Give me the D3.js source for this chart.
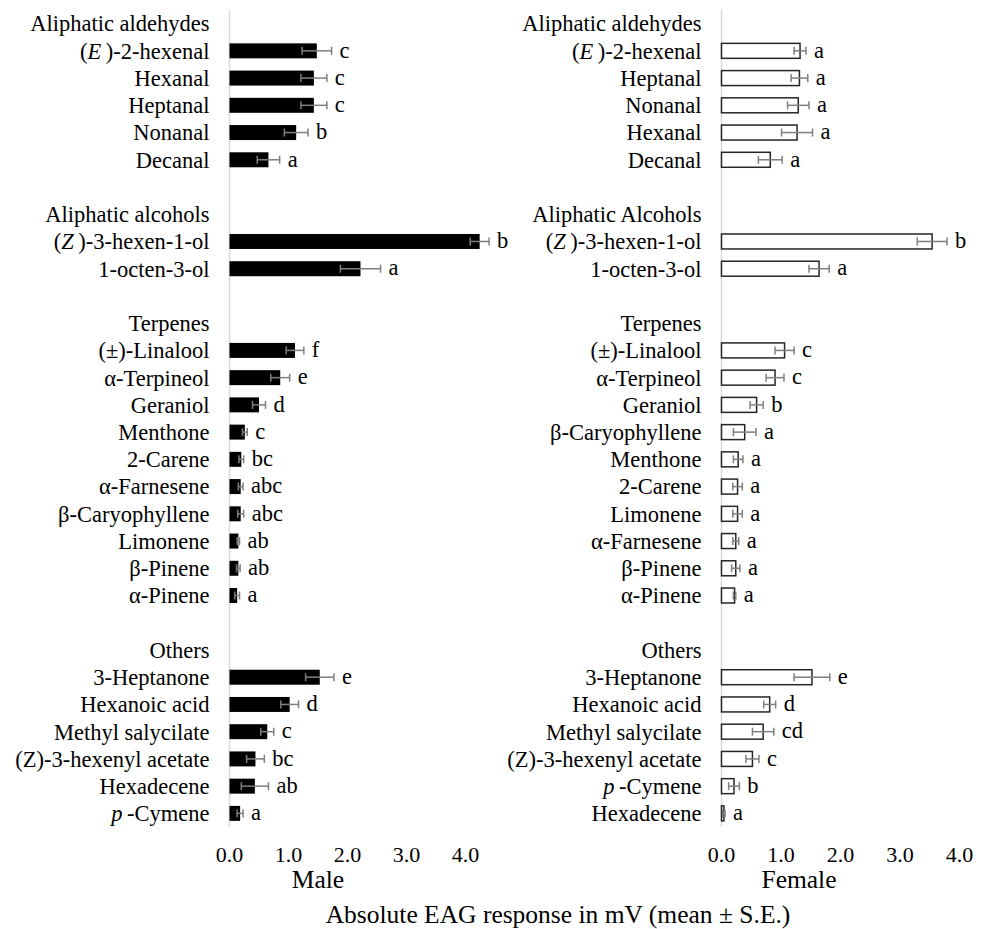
<!DOCTYPE html>
<html>
<head>
<meta charset="utf-8">
<script src="https://cdn.jsdelivr.net/npm/d3@7"></script>
<style>
  html, body { margin: 0; padding: 0; background: #fff; }
</style>
</head>
<body>
<svg id="chart" width="987" height="929" font-family="'Liberation Serif', 'Times New Roman', 'DejaVu Serif', serif"></svg>
<script>
// rows top to bottom; '' is a spacer row, headers have no value; _x_ marks italic
const maleRows = [
  'Aliphatic aldehydes', '(_E_)-2-hexenal', 'Hexanal', 'Heptanal', 'Nonanal', 'Decanal', '',
  'Aliphatic alcohols', '(_Z_)-3-hexen-1-ol', '1-octen-3-ol', '',
  'Terpenes', '(±)-Linalool', 'α-Terpineol', 'Geraniol', 'Menthone', '2-Carene', 'α-Farnesene',
  'β-Caryophyllene', 'Limonene', 'β-Pinene', 'α-Pinene', '',
  'Others', '3-Heptanone', 'Hexanoic acid', 'Methyl salycilate', '(Z)-3-hexenyl acetate', 'Hexadecene', '_p_-Cymene',
];
const maleMeans = [
  null, 1.48, 1.43, 1.43, 1.13, 0.66, null,
  null, 4.24, 2.22, null,
  null, 1.11, 0.86, 0.50, 0.26, 0.20, 0.19, 0.19, 0.15, 0.15, 0.13, null,
  null, 1.53, 1.02, 0.64, 0.44, 0.43, 0.18,
];
const maleErrors = [
  null, 0.25, 0.22, 0.22, 0.20, 0.19, null,
  null, 0.16, 0.34, null,
  null, 0.15, 0.16, 0.11, 0.04, 0.04, 0.04, 0.05, 0.02, 0.03, 0.04, null,
  null, 0.24, 0.15, 0.11, 0.15, 0.23, 0.05,
];
const maleLetters = [
  '', 'c', 'c', 'c', 'b', 'a', '',
  '', 'b', 'a', '',
  '', 'f', 'e', 'd', 'c', 'bc', 'abc', 'abc', 'ab', 'ab', 'a', '',
  '', 'e', 'd', 'c', 'bc', 'ab', 'a',
];

const femaleRows = [
  'Aliphatic aldehydes', '(_E_)-2-hexenal', 'Heptanal', 'Nonanal', 'Hexanal', 'Decanal', '',
  'Aliphatic Alcohols', '(_Z_)-3-hexen-1-ol', '1-octen-3-ol', '',
  'Terpenes', '(±)-Linalool', 'α-Terpineol', 'Geraniol', 'β-Caryophyllene', 'Menthone', '2-Carene',
  'Limonene', 'α-Farnesene', 'β-Pinene', 'α-Pinene', '',
  'Others', '3-Heptanone', 'Hexanoic acid', 'Methyl salycilate', '(Z)-3-hexenyl acetate', '_p_-Cymene', 'Hexadecene',
];
const femaleMeans = [
  null, 1.32, 1.31, 1.29, 1.27, 0.82, null,
  null, 3.54, 1.64, null,
  null, 1.06, 0.90, 0.59, 0.39, 0.28, 0.27, 0.27, 0.24, 0.24, 0.22, null,
  null, 1.52, 0.81, 0.70, 0.52, 0.21, 0.04,
];
const femaleErrors = [
  null, 0.10, 0.14, 0.18, 0.26, 0.20, null,
  null, 0.25, 0.17, null,
  null, 0.16, 0.15, 0.11, 0.19, 0.08, 0.08, 0.08, 0.05, 0.07, 0.02, null,
  null, 0.30, 0.10, 0.18, 0.11, 0.09, 0.02,
];
const femaleLetters = [
  '', 'a', 'a', 'a', 'a', 'a', '',
  '', 'b', 'a', '',
  '', 'c', 'c', 'b', 'a', 'a', 'a', 'a', 'a', 'a', 'a', '',
  '', 'e', 'd', 'cd', 'c', 'b', 'a',
];

const xTicks = [0, 1, 2, 3, 4];
const xDomain = [0, 4];

const svg = d3.select('#chart');
const plotTop = 10;
const plotBottom = 827;

function addRichText(sel, str) {
  // split on '_' : odd parts are italic, followed by a thin gap
  str.split('_').forEach((part, i) => {
    if (!part) return;
    if (i % 2 === 1) {
      sel.append('tspan').attr('font-style', 'italic').text(part + '\u2009');
    } else {
      sel.append('tspan').text(part);
    }
  });
}

function drawPanel({ x0, x1, rows, means, errors, letters, fill, stroke, title, titleX }) {
  const g = svg.append('g');
  const n = rows.length;
  const data = rows.map((label, i) => ({
    i, label, mean: means[i], err: errors[i], letter: letters[i],
  }));

  const x = d3.scaleLinear().domain(xDomain).range([x0, x1]);
  const y = d3.scaleBand()
    .domain(d3.range(n))
    .range([plotTop, plotBottom])
    .paddingInner(0.45)
    .paddingOuter(0.225);

  // zero line
  g.append('line')
    .attr('x1', x(0)).attr('x2', x(0))
    .attr('y1', plotTop).attr('y2', plotBottom)
    .attr('stroke', '#d9d9d9')
    .attr('stroke-width', 1.5);

  // category labels
  g.selectAll('text.cat')
    .data(data.filter((d) => d.label))
    .join('text')
    .attr('class', 'cat')
    .attr('x', x(0) - 20)
    .attr('y', (d) => y(d.i) + y.bandwidth() / 2)
    .attr('dy', '0.35em')
    .attr('text-anchor', 'end')
    .attr('font-size', 22.5)
    .attr('fill', '#000')
    .each(function (d) { addRichText(d3.select(this), d.label); });

  const vals = data.filter((d) => d.mean != null);

  g.selectAll('rect.bar')
    .data(vals)
    .join('rect')
    .attr('class', 'bar')
    .attr('x', x(0))
    .attr('y', (d) => y(d.i))
    .attr('width', (d) => x(d.mean) - x(0))
    .attr('height', y.bandwidth())
    .attr('fill', fill)
    .attr('stroke', stroke)
    .attr('stroke-width', stroke === 'none' ? 0 : 1.5);

  const capH = 8;
  const lo = (d) => x(Math.max(0, d.mean - d.err));
  const hi = (d) => x(d.mean + d.err);
  const eb = g.selectAll('g.err')
    .data(vals)
    .join('g')
    .attr('class', 'err')
    .attr('stroke', '#7f7f7f')
    .attr('stroke-width', 1.5)
    .attr('transform', (d) => `translate(0,${y(d.i) + y.bandwidth() / 2})`);
  eb.append('line').attr('x1', lo).attr('x2', hi);
  eb.append('line').attr('x1', lo).attr('x2', lo).attr('y1', -capH / 2).attr('y2', capH / 2);
  eb.append('line').attr('x1', hi).attr('x2', hi).attr('y1', -capH / 2).attr('y2', capH / 2);

  g.selectAll('text.letter')
    .data(vals)
    .join('text')
    .attr('class', 'letter')
    .attr('x', (d) => hi(d) + 8)
    .attr('y', (d) => y(d.i) + y.bandwidth() / 2)
    .attr('dy', '0.3em')
    .attr('font-size', 22.5)
    .text((d) => d.letter);

  // x tick labels only, no axis line
  g.selectAll('text.tick')
    .data(xTicks)
    .join('text')
    .attr('class', 'tick')
    .attr('x', (d) => x(d))
    .attr('y', 854)
    .attr('dy', '0.35em')
    .attr('text-anchor', 'middle')
    .attr('font-size', 22)
    .text((d) => d3.format('.1f')(d));

  g.append('text')
    .attr('x', titleX)
    .attr('y', 879)
    .attr('dy', '0.35em')
    .attr('text-anchor', 'middle')
    .attr('font-size', 25.5)
    .text(title);
}

drawPanel({
  x0: 229.5, x1: 465.5,
  rows: maleRows, means: maleMeans, errors: maleErrors, letters: maleLetters,
  fill: '#000', stroke: 'none', title: 'Male', titleX: 318,
});

drawPanel({
  x0: 721.5, x1: 959.5,
  rows: femaleRows, means: femaleMeans, errors: femaleErrors, letters: femaleLetters,
  fill: '#fff', stroke: '#262626', title: 'Female', titleX: 799,
});

svg.append('text')
  .attr('x', 558)
  .attr('y', 914)
  .attr('dy', '0.35em')
  .attr('text-anchor', 'middle')
  .attr('font-size', 25.5)
  .text('Absolute EAG response in mV (mean ± S.E.)');
</script>
</body>
</html>
